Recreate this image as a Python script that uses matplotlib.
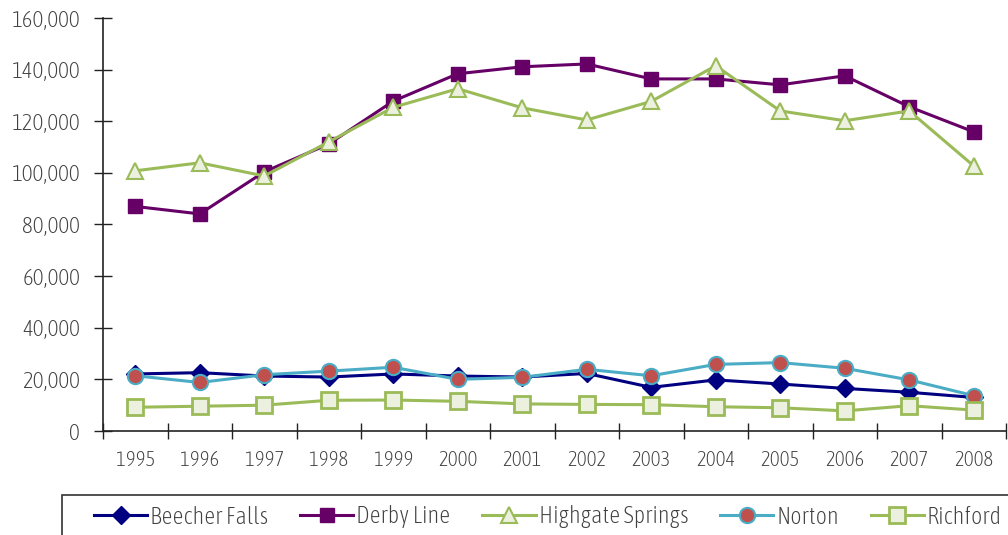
import matplotlib.pyplot as plt
from matplotlib.patches import Rectangle
from matplotlib.ticker import FuncFormatter

plt.rcParams['font.family'] = ['Asap Condensed', 'Liberation Sans', 'DejaVu Sans']
plt.rcParams['font.weight'] = 'light'

years = ['1995', '1996', '1997', '1998', '1999', '2000', '2001',
         '2002', '2003', '2004', '2005', '2006', '2007', '2008']

beecher_falls = [22100, 22600, 21300, 20900, 22100, 21300, 20900,
                 22300, 16900, 19800, 18200, 16500, 15000, 13000]
derby_line = [87000, 84100, 100400, 111200, 127800, 138400, 141100,
              142200, 136400, 136400, 134100, 137600, 125600, 115900]
highgate_springs = [100800, 103900, 98800, 112000, 125400, 132600, 125200,
                    120500, 127700, 141500, 124000, 120200, 124000, 102700]
norton = [21400, 18800, 21800, 23200, 24700, 20000, 20800,
          23900, 21400, 25800, 26500, 24300, 19800, 13700]
richford = [9200, 9600, 10000, 11900, 12000, 11500, 10500,
            10300, 10200, 9400, 9000, 7800, 9800, 8100]

x = list(range(len(years)))
txt = '#404040'

fig = plt.figure(figsize=(10.08, 5.35), dpi=100)
ax = fig.add_axes([103/1008, 1 - 431/535, 903/1008, 413/535])

ax.plot(x, beecher_falls, color='#000080', lw=2.2, marker='D', ms=9,
        mfc='#000080', mec='#000080', label='Beecher Falls')
ax.plot(x, derby_line, color='#660066', lw=2.2, marker='s', ms=10,
        mfc='#660066', mec='#660066', label='Derby Line')
ax.plot(x, highgate_springs, color='#9BBB59', lw=2.2, marker='^', ms=11,
        mfc='#EBF1DE', mec='#9BBB59', mew=1.5, label='Highgate Springs')
ax.plot(x, norton, color='#4BACC6', lw=2.2, marker='o', ms=11,
        mfc='#C0504D', mec='#4BACC6', mew=1.5, label='Norton')
ax.plot(x, richford, color='#9BBB59', lw=2.2, marker='s', ms=11,
        mfc='#EBF1DE', mec='#9BBB59', mew=2, label='Richford')

ax.set_xlim(-0.5, len(years) - 0.5)
ax.set_ylim(0, 160000)
ax.set_yticks(range(0, 160001, 20000))
ax.yaxis.set_major_formatter(FuncFormatter(lambda v, p: f'{int(v):,}'))

# boundary ticks between categories, labels centred under each year
ax.set_xticks([i - 0.5 for i in range(len(years) + 1)])
ax.set_xticklabels([])
ax.set_xticks(x, minor=True)
ax.set_xticklabels(years, minor=True)
ax.tick_params(axis='x', which='major', direction='inout', length=12, width=1, color='#222222')
ax.tick_params(axis='x', which='minor', length=0, pad=14, labelsize=15, labelcolor=txt)
ax.tick_params(axis='y', direction='inout', length=13, width=1, color='#222222',
               labelsize=16.5, labelcolor=txt, pad=10)

for s in ['top', 'right']:
    ax.spines[s].set_visible(False)
for s in ['left', 'bottom']:
    ax.spines[s].set_color('#222222')
    ax.spines[s].set_linewidth(1.2)

# legend box runs off the right/bottom edge like the original
fig.patches.append(Rectangle((62/1008, -0.1), 1.0, 0.1 + 1 - 495/535,
                             transform=fig.transFigure, fill=False,
                             edgecolor='#333333', lw=1.2))
fig.legend(loc='center left', bbox_to_anchor=(72/1008, 1 - 517/535), ncol=5,
           frameon=False, fontsize=17.5, handlelength=2.2, handletextpad=0.12,
           columnspacing=1.3, labelcolor=txt)

fig.savefig('out.png', dpi=100)
